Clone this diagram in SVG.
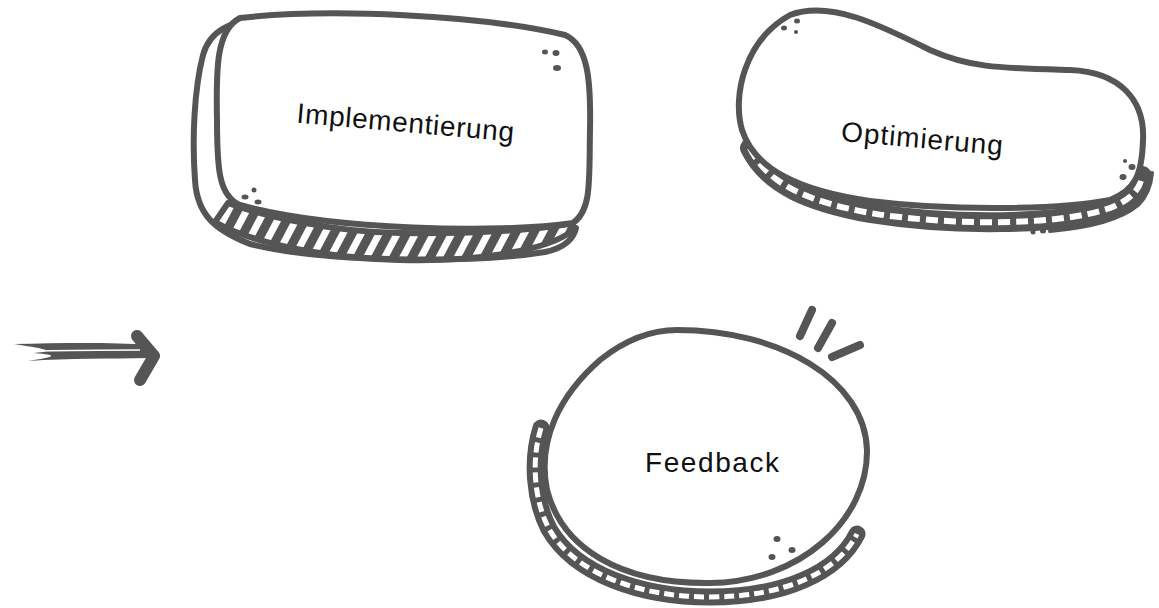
<svg xmlns="http://www.w3.org/2000/svg" width="1159" height="608" viewBox="0 0 1159 608">
<style>
.ln{fill:none;stroke:#555;stroke-linecap:round;stroke-linejoin:round}
.dash{fill:none;stroke:#fff;stroke-linecap:butt}
.fr{fill:#fff;stroke:#555;stroke-width:6;stroke-linejoin:round}
.dot{fill:#555}
.lbl{font-family:"Liberation Sans",Arial,sans-serif;font-size:28px;fill:#111;text-anchor:middle}
</style>
<defs>
<pattern id="hatch" patternUnits="userSpaceOnUse" width="16" height="16" patternTransform="rotate(28)">
<rect width="16" height="16" fill="#fff"/>
<rect width="9" height="16" fill="#555"/>
</pattern>
</defs>
<rect width="1159" height="608" fill="#fff"/>

<g id="connectors">
<path d="M14 344 C60 343 110 342 150 345 L150 358 C110 359 70 358 28 361 C55 357 60 355 34 353 C60 351 40 348 14 344 Z" fill="#555"/>
<path d="M40 351 C80 350 110 350 140 350" class="dash" stroke-width="1.5"/>
<polyline points="137,336 154,356 140,380" class="ln" stroke-width="12"/>
</g>

<g id="node-implementierung">
<path d="M215 222 C255 245 330 258 400 260 C470 262 545 252 572 231 L573 223 C540 230 470 234 400 233 C330 232 260 215 228 203 Z" fill="url(#hatch)" stroke="#555" stroke-width="6" stroke-linejoin="round"/>
<path d="M262 18 C230 22 210 30 203 55 C194 90 192 140 195 180 C197 215 215 230 250 244 C320 262 470 264 545 252 C565 248 574 238 576 228" class="ln" stroke-width="6"/>
<path d="M240 18 C330 8 480 15 565 35 C588 45 591 80 590 130 C589 180 592 210 573 223 C500 234 330 230 240 205 C219 196 217 170 217 120 C216 70 216 30 240 18 Z" class="fr"/>
<ellipse class="dot" cx="545" cy="52" rx="3" ry="2.5"/>
<ellipse class="dot" cx="556" cy="53" rx="3.5" ry="3"/>
<ellipse class="dot" cx="557" cy="68" rx="4" ry="3"/>
<ellipse class="dot" cx="254" cy="190" rx="2.5" ry="2.5"/>
<ellipse class="dot" cx="245" cy="197" rx="3.5" ry="2.5"/>
<ellipse class="dot" cx="258" cy="202" rx="3.5" ry="2.5"/>
<text class="lbl" x="405" y="132" textLength="218" lengthAdjust="spacing" transform="rotate(5 405 128)">Implementierung</text>
</g>

<g id="node-optimierung">
<path d="M750 148 C768 185 810 202 870 213 C950 226 1060 226 1110 208 C1130 200 1140 190 1142 176" class="ln" stroke-width="20"/>
<path d="M750 148 C768 185 810 202 870 213 C950 226 1060 226 1110 208 C1130 200 1140 190 1142 176" class="dash" stroke-width="6" stroke-dasharray="12 6"/>
<path d="M790 15 C830 0 880 25 930 50 C970 68 1000 68 1070 70 C1120 72 1145 100 1143 140 C1142 175 1135 190 1110 200 C1060 210 950 211 870 201 C800 191 755 170 742 130 C732 95 745 40 790 15 Z" class="fr"/>
<path d="M1050 231 C1085 228 1120 220 1138 205 C1148 195 1151 185 1152 173" class="ln" stroke-width="4"/>
<ellipse class="dot" cx="784" cy="28" rx="3" ry="2.5"/>
<ellipse class="dot" cx="797" cy="21" rx="3" ry="2.5"/>
<ellipse class="dot" cx="796" cy="32" rx="2" ry="2"/>
<ellipse class="dot" cx="1123" cy="177" rx="3.5" ry="3"/>
<ellipse class="dot" cx="1132" cy="167" rx="3.5" ry="3"/>
<ellipse class="dot" cx="1125" cy="161" rx="2" ry="2"/>
<ellipse class="dot" cx="1033" cy="232" rx="2.5" ry="2.5"/>
<ellipse class="dot" cx="1043" cy="231" rx="3" ry="2.5"/>
<text class="lbl" x="922" y="148" textLength="162" lengthAdjust="spacing" transform="rotate(5 922 140)">Optimierung</text>
</g>

<g id="node-feedback">
<path d="M541 428 C531 460 534 500 549 529 C575 574 640 597 710 597 C785 597 838 572 857 534" class="ln" stroke-width="17"/>
<path d="M541 428 C531 460 534 500 549 529 C575 574 640 597 710 597 C785 597 838 572 857 534" class="dash" stroke-width="5" stroke-dasharray="10 5"/>
<path d="M677 330 C780 330 865 380 867 450 C868 520 800 582 710 583 C620 584 562 548 547 490 C537 440 560 395 600 360 C625 340 650 330 677 330 Z" class="fr"/>
<path d="M812 310 L800 336 M832 323 L818 348 M860 345 L832 357" class="ln" stroke-width="8"/>
<ellipse class="dot" cx="777" cy="539" rx="3.5" ry="3"/>
<ellipse class="dot" cx="792" cy="550" rx="3.5" ry="3"/>
<ellipse class="dot" cx="772" cy="557" rx="3.5" ry="3"/>
<text class="lbl" x="712" y="472" textLength="134" lengthAdjust="spacing">Feedback</text>
</g>
</svg>
